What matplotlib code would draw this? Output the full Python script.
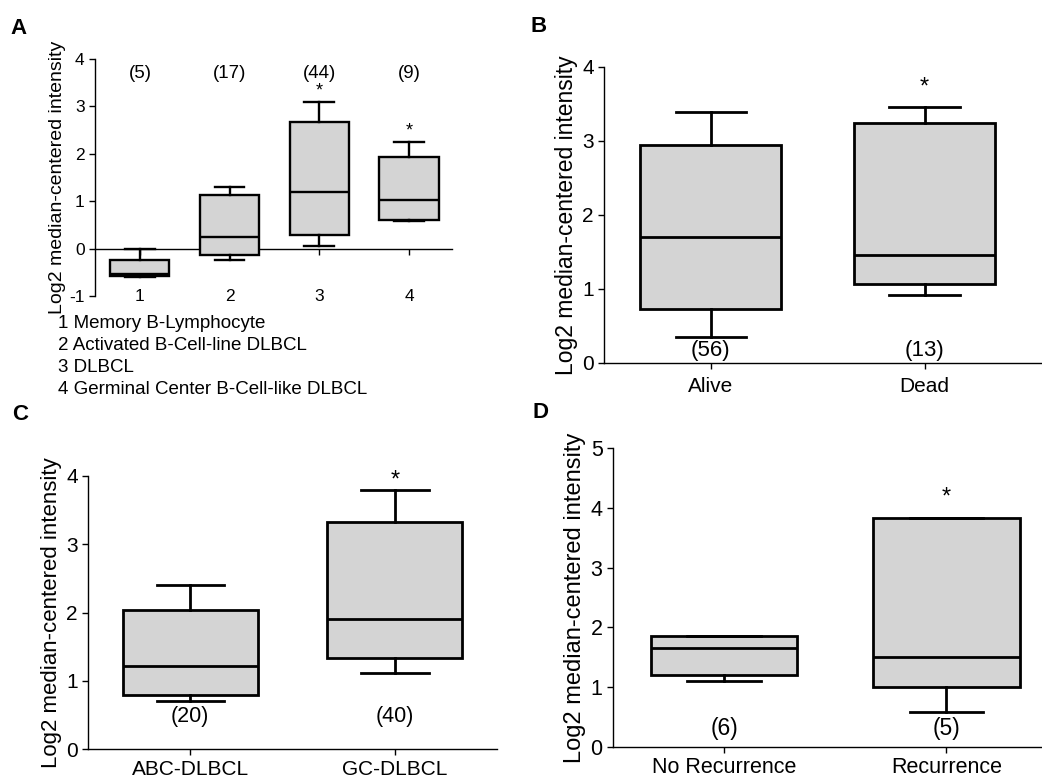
import numpy as np
import matplotlib
matplotlib.use('Agg')
import matplotlib.pyplot as plt

plt.rcParams['font.family'] = ['Liberation Sans', 'DejaVu Sans']
plt.rcParams['axes.unicode_minus'] = False

# ---------------- data ----------------
# panel A
a_labels = ['1', '2', '3', '4']
a_whishi = [0.0, 1.29, 3.09, 2.26]
a_q3 = [-0.23, 1.13, 2.67, 1.93]
a_med = [-0.53, 0.24, 1.19, 1.02]
a_q1 = [-0.57, -0.13, 0.29, 0.61]
a_whislo = [-0.60, -0.24, 0.05, 0.58]
a_n = ['(5)', '(17)', '(44)', '(9)']
a_star = ['', '', '*', '*']
a_star_y = [0, 0, 3.32, 2.48]
a_legend = ['1 Memory B-Lymphocyte', '2 Activated B-Cell-line DLBCL',
            '3 DLBCL', '4 Germinal Center B-Cell-like DLBCL']

# panel B
b_labels = ['Alive', 'Dead']
b_whishi = [3.39, 3.45]
b_q3 = [2.94, 3.24]
b_med = [1.70, 1.46]
b_q1 = [0.73, 1.06]
b_whislo = [0.35, 0.91]
b_n = ['(56)', '(13)']

# panel C
c_labels = ['ABC-DLBCL', 'GC-DLBCL']
c_whishi = [2.40, 3.80]
c_q3 = [2.04, 3.32]
c_med = [1.22, 1.91]
c_q1 = [0.80, 1.34]
c_whislo = [0.70, 1.11]
c_n = ['(20)', '(40)']

# panel D
d_labels = ['No Recurrence', 'Recurrence']
d_whishi = [1.85, 3.83]
d_q3 = [1.85, 3.83]
d_med = [1.66, 1.51]
d_q1 = [1.21, 1.00]
d_whislo = [1.11, 0.58]
d_n = ['(6)', '(5)']

ylab = 'Log2 median-centered intensity'
grey = '#d4d4d4'


def stats(lo, q1, med, q3, hi):
    return [dict(whislo=lo[i], q1=q1[i], med=med[i], q3=q3[i], whishi=hi[i], fliers=[])
            for i in range(len(med))]


def draw_boxes(ax, st, lw):
    n = len(st)
    ax.bxp(st, positions=range(1, n + 1), widths=0.66, capwidths=0.33,
           patch_artist=True, showfliers=False,
           boxprops=dict(facecolor=grey, edgecolor='black', linewidth=lw, zorder=3),
           medianprops=dict(color='black', linewidth=lw, zorder=4),
           whiskerprops=dict(color='black', linewidth=lw, zorder=3),
           capprops=dict(color='black', linewidth=lw, zorder=3))


def style(ax, fs):
    ax.spines['top'].set_visible(False)
    ax.spines['right'].set_visible(False)
    ax.spines['left'].set_linewidth(1.0)
    ax.spines['bottom'].set_linewidth(1.0)
    ax.tick_params(direction='out', length=4, width=1.0, labelsize=fs)


fig = plt.figure(figsize=(10.42, 7.8), dpi=100)

# ---------------- A ----------------
axA = fig.add_axes([0.0912, 0.6205, 0.3426, 0.3038])
draw_boxes(axA, stats(a_whislo, a_q1, a_med, a_q3, a_whishi), 1.7)
style(axA, 12.5)
axA.spines['bottom'].set_position(('data', 0))
axA.set_xlim(0.5, 4.48)
axA.set_ylim(-1, 4)
axA.set_yticks(range(-1, 5))
axA.set_xticks(range(1, 5))
axA.set_xticklabels(a_labels)
axA.tick_params(axis='x', pad=25)
axA.set_ylabel(ylab, fontsize=14, labelpad=2)
for i in range(4):
    axA.text(i + 1, 3.7, a_n[i], ha='center', va='center', fontsize=13.5)
    if a_star[i]:
        axA.text(i + 1, a_star_y[i], a_star[i], ha='center', va='center', fontsize=13)
for k, line in enumerate(a_legend):
    fig.text(58 / 1042, 1 - (323 + 22.3 * k) / 780, line, ha='left', va='center', fontsize=13.5)

# ---------------- B ----------------
axB = fig.add_axes([0.5797, 0.535, 0.4203, 0.3795])
draw_boxes(axB, stats(b_whislo, b_q1, b_med, b_q3, b_whishi), 2.0)
style(axB, 15)
axB.tick_params(axis='x', pad=6)
axB.set_xlim(0.5, 2.55)
axB.set_ylim(0, 4)
axB.set_yticks(range(0, 5))
axB.set_xticks([1, 2])
axB.set_xticklabels(b_labels)
axB.set_ylabel(ylab, fontsize=16.5, labelpad=3)
for i in range(2):
    axB.text(i + 1, 0.17, b_n[i], ha='center', va='center', fontsize=16)
axB.text(2, 3.72, '*', ha='center', va='center', fontsize=17)

# ---------------- C ----------------
axC = fig.add_axes([0.0845, 0.0394, 0.3925, 0.3504])
draw_boxes(axC, stats(c_whislo, c_q1, c_med, c_q3, c_whishi), 2.0)
style(axC, 15)
axC.set_xlim(0.5, 2.5)
axC.set_ylim(0, 4)
axC.set_yticks(range(0, 5))
axC.set_xticks([1, 2])
axC.set_xticklabels(c_labels)
axC.set_ylabel(ylab, fontsize=16, labelpad=3)
for i in range(2):
    axC.text(i + 1, 0.48, c_n[i], ha='center', va='center', fontsize=15.5)
axC.text(2, 3.94, '*', ha='center', va='center', fontsize=17)

# ---------------- D ----------------
axD = fig.add_axes([0.5883, 0.0423, 0.4117, 0.3833])
draw_boxes(axD, stats(d_whislo, d_q1, d_med, d_q3, d_whishi), 2.0)
style(axD, 15.5)
axD.set_xlim(0.5, 2.43)
axD.set_ylim(0, 5)
axD.set_yticks(range(0, 6))
axD.set_xticks([1, 2])
axD.set_xticklabels(d_labels)
axD.set_ylabel(ylab, fontsize=17, labelpad=3)
for i in range(2):
    axD.text(i + 1, 0.31, d_n[i], ha='center', va='center', fontsize=16.5)
axD.text(2, 4.18, '*', ha='center', va='center', fontsize=17)

# panel letters
for lab, x, y in [('A', 10, 28), ('B', 530, 26), ('C', 12, 414), ('D', 532, 412)]:
    fig.text(x / 1042, 1 - y / 780, lab, fontsize=16, fontweight='bold', ha='left', va='center')

fig.savefig('out.png', dpi=100)
